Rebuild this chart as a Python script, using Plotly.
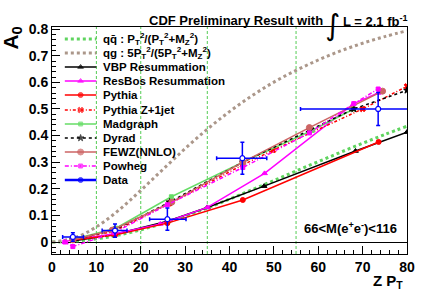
import plotly.graph_objects as go

# ---------------- data ----------------
pt_theory = [0, 5, 10, 15, 20, 25, 30, 35, 40, 45, 50, 55, 60, 65, 70, 75, 80]
qqbar_curve = [0.0, 0.003, 0.012, 0.026, 0.046, 0.070, 0.098, 0.128, 0.161, 0.196,
               0.231, 0.267, 0.302, 0.337, 0.371, 0.404, 0.435]
qg_curve = [0.0, 0.015, 0.057, 0.119, 0.194, 0.273, 0.351, 0.424, 0.490, 0.549,
            0.601, 0.645, 0.684, 0.718, 0.747, 0.772, 0.794]

vbp_x = [4.7, 14.0, 26.0, 35.0, 47.8, 68.4, 80.0]
vbp_y = [0.004, 0.028, 0.078, 0.130, 0.210, 0.342, 0.413]

resbos_x = [2.9, 4.7, 14.0, 24.4, 35.0, 47.9, 68.0, 73.5]
resbos_y = [0.0, 0.010, 0.030, 0.068, 0.130, 0.258, 0.520, 0.560]

pythia_x = [4.7, 14.2, 26.0, 43.0, 73.6]
pythia_y = [0.008, 0.026, 0.071, 0.158, 0.376]

pyz1j_x = [4.7, 14.0, 26.5, 43.0, 49.8, 70.0, 80.0]
pyz1j_y = [0.010, 0.040, 0.145, 0.290, 0.345, 0.500, 0.585]

madgraph_x = [4.7, 14.4, 26.9, 43.0, 58.7, 68.0]
madgraph_y = [0.010, 0.052, 0.170, 0.300, 0.420, 0.500]

dyrad_x = [4.7, 14.0, 26.5, 43.0, 58.0, 68.0, 80.0]
dyrad_y = [0.008, 0.045, 0.150, 0.300, 0.420, 0.500, 0.570]

fewz_x = [4.7, 13.6, 27.0, 43.0, 58.0, 74.5]
fewz_y = [0.008, 0.045, 0.150, 0.300, 0.430, 0.567]

powheg_x = [2.9, 4.7, 14.0, 26.0, 43.0, 58.0, 68.0, 73.5]
powheg_y = [0.0, -0.017, 0.035, 0.140, 0.280, 0.410, 0.520, 0.575]

data_x = [4.7, 14.2, 26.0, 42.9, 73.5]
data_y = [0.019, 0.043, 0.086, 0.315, 0.500]
data_yerr = [0.016, 0.025, 0.042, 0.060, 0.062]
data_xerr_lo = [2.3, 2.9, 4.0, 5.8, 17.5]
data_xerr_hi = [2.4, 2.7, 4.2, 5.5, 8.0]

bin_edges = [10, 20, 35, 55]

x_ticks = [0, 10, 20, 30, 40, 50, 60, 70, 80]
y_ticks = [0, 0.1, 0.2, 0.3, 0.4, 0.5, 0.6, 0.7, 0.8]
y_ticktext = ["0", "0.1", "0.2", "0.3", "0.4", "0.5", "0.6", "0.7", "0.8"]

# ---------------- styles ----------------
FONT = "Liberation Sans, Arial, Helvetica, sans-serif"
GREEN_DOT = "#5fd45f"
BROWN = "#ab978a"
MAGENTA = "#ff00ff"
RED = "#ff0000"
GREEN = "#66dd66"
FEWZC = "#cd6464"
BLUE = "#0000ff"

series = [
    dict(name="qq\u0304 : P<sub>T</sub><sup>2</sup>/(P<sub>T</sub><sup>2</sup>+M<sub>Z</sub><sup>2</sup>)",
         x=pt_theory, y=qqbar_curve, color=GREEN_DOT, dash="dot", width=3, symbol=None, spline=True),
    dict(name="qg : 5P<sub>T</sub><sup>2</sup>/(5P<sub>T</sub><sup>2</sup>+M<sub>Z</sub><sup>2</sup>)",
         x=pt_theory, y=qg_curve, color=BROWN, dash="dot", width=3, symbol=None, spline=True),
    dict(name="VBP Resummation", x=vbp_x, y=vbp_y, color="black", dash="solid", width=1.5,
         symbol="triangle-up", size=5),
    dict(name="ResBos Resummation", x=resbos_x, y=resbos_y, color=MAGENTA, dash="solid", width=1.5,
         symbol="triangle-up", size=5),
    dict(name="Pythia", x=pythia_x, y=pythia_y, color=RED, dash="solid", width=1.5,
         symbol="circle", size=5),
    dict(name="Pythia Z+1jet", x=pyz1j_x, y=pyz1j_y, color=RED, dash="3px,2px,1px,2px", width=1.5,
         symbol="x", size=5),
    dict(name="Madgraph", x=madgraph_x, y=madgraph_y, color=GREEN, dash="solid", width=1.5,
         symbol="square", size=4),
    dict(name="Dyrad", x=dyrad_x, y=dyrad_y, color="black", dash="dot", width=1.5,
         symbol="star", size=5),
    dict(name="FEWZ(NNLO)", x=fewz_x, y=fewz_y, color=FEWZC, dash="solid", width=1.5,
         symbol="circle", size=6),
    dict(name="Powheg", x=powheg_x, y=powheg_y, color=MAGENTA, dash="4px,2px,1px,2px", width=1.5,
         symbol="square", size=4),
]

fig = go.Figure()

for s in series:
    mode = "lines" if s["symbol"] is None else "lines+markers"
    fig.add_trace(go.Scatter(
        x=s["x"], y=s["y"], mode=mode, showlegend=False,
        line=dict(color=s["color"], dash=s["dash"], width=s["width"],
                  shape="spline" if s.get("spline") else "linear"),
        marker=dict(symbol=s["symbol"] or "circle", size=s.get("size", 5), color=s["color"],
                    line=dict(color=s["color"], width=1)),
        cliponaxis=True,
    ))

# data
fig.add_trace(go.Scatter(
    x=data_x, y=data_y, mode="markers", showlegend=False,
    marker=dict(symbol="circle", size=5, color="white", line=dict(color=BLUE, width=1.2)),
    error_y=dict(type="data", array=data_yerr, color=BLUE, thickness=1.5, width=2),
    error_x=dict(type="data", array=data_xerr_hi, arrayminus=data_xerr_lo, color=BLUE,
                 thickness=1.5, width=2),
))

# vertical bin-edge lines
for e in bin_edges:
    fig.add_shape(type="line", x0=e, x1=e, y0=0, y1=1, xref="x", yref="paper",
                  line=dict(color="#55cc55", width=1, dash="3px,2px"), layer="below")

# ---------------- manual legend (pixel-like coordinates on a hidden axis) ----------------
L_LEFT, L_RIGHT = 52, 412
T_TOP, T_BOT = 27, 254
legend_rows = [39, 53, 67, 81, 95, 110, 124, 138, 152, 166, 180]
legend_entries = series + [dict(name="Data", color=BLUE, dash="solid", width=2.5,
                                symbol="circle", size=5)]
for row, s in zip(legend_rows, legend_entries):
    has_m = s["symbol"] is not None
    fig.add_trace(go.Scatter(
        x=[65, 81, 97], y=[row, row, row], xaxis="x2", yaxis="y2",
        mode="lines+markers" if has_m else "lines", showlegend=False, hoverinfo="skip",
        line=dict(color=s["color"], dash=s["dash"], width=s["width"]),
        marker=dict(symbol=s["symbol"] or "circle", size=[0, s.get("size", 5), 0],
                    color=s["color"], line=dict(color=s["color"], width=1)),
    ))
    fig.add_annotation(x=102, y=row, xref="x2", yref="y2", text=s["name"], showarrow=False,
                       xanchor="left", yanchor="middle",
                       font=dict(family=FONT, size=11.5, color="black", weight="bold"))

def px_x(p):
    return (p - L_LEFT) / (L_RIGHT - L_LEFT)

def px_y(p):
    return (T_BOT - p) / (T_BOT - T_TOP)

bold = lambda size: dict(family=FONT, size=size, color="black", weight="bold")

# titles / labels
fig.add_annotation(x=px_x(329), y=px_y(20.5), xref="paper", yref="paper", showarrow=False,
                   text="CDF Preliminary Result with", xanchor="right", yanchor="middle",
                   font=bold(13))
fig.add_annotation(x=px_x(336), y=px_y(24.5), xref="paper", yref="paper", showarrow=False,
                   text="\u222b", xanchor="center", yanchor="middle",
                   font=dict(family="DejaVu Sans", size=29, color="black"))
fig.add_annotation(x=px_x(345), y=px_y(20.5), xref="paper", yref="paper", showarrow=False,
                   text="L = 2.1 fb<sup>-1</sup>", xanchor="left", yanchor="middle",
                   font=bold(13))
fig.add_annotation(x=px_x(11), y=px_y(38), xref="paper", yref="paper", showarrow=False,
                   text="A<sub>0</sub>", textangle=-90, xanchor="center", yanchor="middle",
                   font=bold(21))
fig.add_annotation(x=px_x(410), y=px_y(281), xref="paper", yref="paper", showarrow=False,
                   text="Z P<sub>T</sub>", xanchor="right", yanchor="middle", font=bold(15))
fig.add_annotation(x=px_x(306), y=px_y(228), xref="paper", yref="paper", showarrow=False,
                   text="66<M(e<sup>+</sup>e<sup>-</sup>)<116", xanchor="left", yanchor="middle",
                   font=bold(13))

fig.update_layout(
    width=427, height=290,
    margin=dict(l=L_LEFT, r=427 - L_RIGHT, t=T_TOP, b=290 - T_BOT, pad=0),
    paper_bgcolor="white", plot_bgcolor="white",
    showlegend=False,
    font=dict(family=FONT, color="black"),
    xaxis=dict(range=[0, 80], tickvals=x_ticks, ticks="inside", ticklen=8, tickwidth=1,
               tickcolor="black", showline=True, linecolor="black", linewidth=1, mirror=True,
               showgrid=False, zeroline=False, tickfont=bold(14),
               minor=dict(ticks="inside", ticklen=4, dtick=2, tickcolor="black", showgrid=False)),
    yaxis=dict(range=[-0.045, 0.808], tickvals=y_ticks, ticktext=y_ticktext, ticks="inside",
               ticklen=8, tickwidth=1, tickcolor="black", showline=True, linecolor="black",
               linewidth=1, mirror=True, showgrid=False, zeroline=True, zerolinecolor="black",
               zerolinewidth=1, tickfont=bold(14),
               minor=dict(ticks="inside", ticklen=4, dtick=0.02, tickcolor="black", showgrid=False)),
    xaxis2=dict(range=[L_LEFT, L_RIGHT], overlaying="x", anchor="y2", visible=False,
                fixedrange=True),
    yaxis2=dict(range=[T_BOT, T_TOP], overlaying="y", anchor="x2", visible=False,
                fixedrange=True),
)

fig.write_html("out.html", config={"displayModeBar": False},
               post_script="document.body.style.margin='0px';document.body.style.overflow='hidden';")
